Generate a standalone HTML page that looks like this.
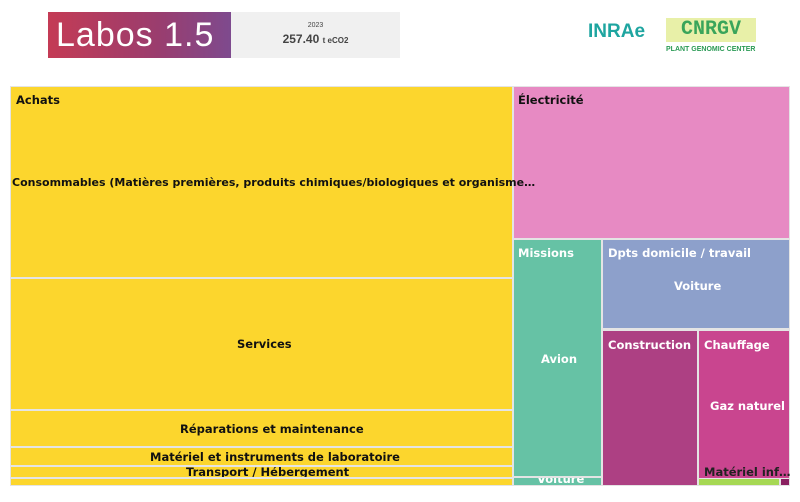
<!DOCTYPE html>
<html><head><meta charset="utf-8"><style>
body{margin:0;width:800px;height:502px;background:#fff;position:relative;overflow:hidden;font-family:"DejaVu Sans","Liberation Sans",sans-serif}
.c{position:absolute;box-sizing:border-box;font-size:11.5px;font-weight:bold;overflow:hidden}
.t{position:absolute;white-space:nowrap}
.y{background:#fcd62d;color:#111}
.w{color:#fff}
</style></head><body>
<div style="position:absolute;left:48px;top:12px;width:183px;height:46px;background:linear-gradient(90deg,#c43b55,#9a3d6e 60%,#7e4a8e);color:#fff;font-family:'Liberation Sans',sans-serif;font-size:34px;line-height:46px;padding-left:8px;box-sizing:border-box;letter-spacing:1px">Labos 1.5</div>
<div style="position:absolute;left:231px;top:12px;width:169px;height:46px;background:#f0f0f0;text-align:center;color:#444;font-family:'Liberation Sans',sans-serif">
<div style="font-size:7px;margin-top:10px">2023</div><div style="font-size:12px;font-weight:bold;margin-top:3px">257.40 <span style="font-size:8px">t eCO2</span></div></div>
<div style="position:absolute;left:588px;top:21px;color:#1ea5a0;font:bold 19px 'Liberation Sans',sans-serif">INRAe</div>
<div style="position:absolute;left:666px;top:18px;width:90px;height:24px;background:#e8f0a8;color:#3aa55a;font:bold 20px 'Liberation Mono',monospace;text-align:center;line-height:24px">CNRGV</div>
<div style="position:absolute;left:666px;top:46px;color:#2a9a55;font:bold 7px 'Liberation Sans',sans-serif">PLANT GENOMIC CENTER</div>
<div style="position:absolute;left:10px;top:86px;width:780px;height:400px;background:#e4e4e4"></div>
<div class="c y" style="left:11px;top:279px;width:501px;height:130px"><span class="t" style="left:226px;top:58px">Services</span></div>
<div class="c y" style="left:11px;top:411px;width:501px;height:35px"><span class="t" style="left:169px;top:11px">Réparations et maintenance</span></div>
<div class="c y" style="left:11px;top:448px;width:501px;height:17px"><span class="t" style="left:139px;top:2px">Matériel et instruments de laboratoire</span></div>
<div class="c y" style="left:11px;top:467px;width:501px;height:10px"><span class="t" style="left:175px;top:-2px">Transport / Hébergement</span></div>
<div class="c y" style="left:11px;top:479px;width:501px;height:6px"></div>
<div class="c" style="left:514px;top:87px;width:275px;height:151px;background:#e78ac3;color:#111"><span class="t" style="left:4px;top:6px">Électricité</span></div>
<div class="c y" style="left:11px;top:87px;width:501px;height:190px;overflow:visible;z-index:2"><span class="t" style="left:5px;top:6px">Achats</span><span class="t" style="left:1px;top:89px;font-size:11px">Consommables (Matières premières, produits chimiques/biologiques et organisme…</span></div>
<div class="c w" style="left:514px;top:240px;width:87px;height:236px;background:#66c2a5"><span class="t" style="left:4px;top:6px">Missions</span><span class="t" style="left:27px;top:112px">Avion</span></div>
<div class="c w" style="left:514px;top:478px;width:87px;height:7px;background:#66c2a5"><span class="t" style="left:23px;top:-6px">Voiture</span></div>
<div class="c w" style="left:603px;top:240px;width:186px;height:88px;background:#8da0cb"><span class="t" style="left:5px;top:6px">Dpts domicile / travail</span><span class="t" style="left:71px;top:39px">Voiture</span></div>
<div class="c w" style="left:603px;top:331px;width:94px;height:154px;background:#ad4083"><span class="t" style="left:5px;top:7px">Construction</span></div>
<div class="c w" style="left:699px;top:331px;width:90px;height:147px;background:#c9458f"><span class="t" style="left:5px;top:7px">Chauffage</span><span class="t" style="left:11px;top:68px">Gaz naturel</span></div>
<div class="c" style="left:699px;top:479px;width:80px;height:6px;background:#a6d854"></div>
<div class="c" style="left:781px;top:479px;width:8px;height:6px;background:#8a2060"></div>
<div class="t" style="left:704px;top:465px;font-size:11.5px;font-weight:bold;color:#222">Matériel inf…</div>
</body></html>
